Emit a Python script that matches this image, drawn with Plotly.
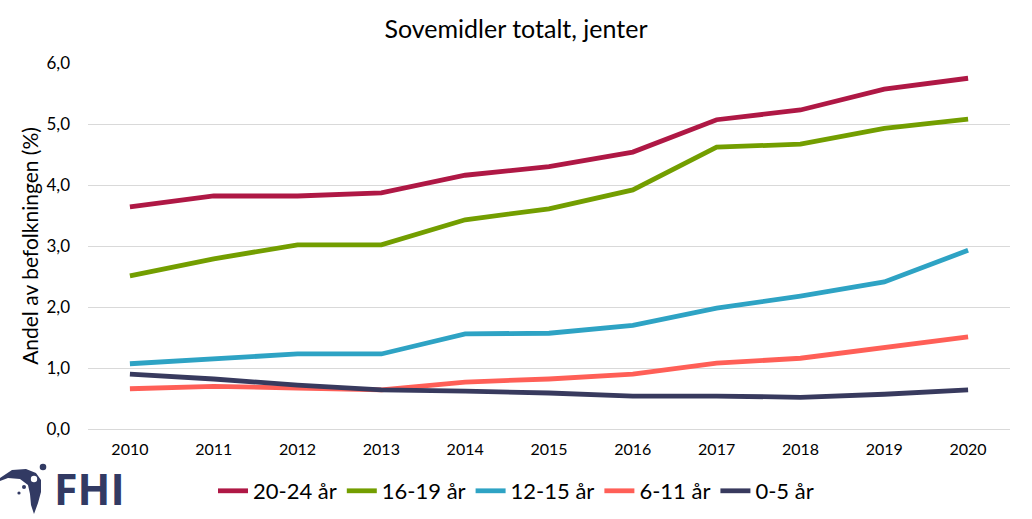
import plotly.graph_objects as go

years = ["2010", "2011", "2012", "2013", "2014", "2015", "2016", "2017", "2018", "2019", "2020"]
series_names = ["20-24 år", "16-19 år", "12-15 år", "6-11 år", "0-5 år"]
v_20_24 = [3.64, 3.82, 3.82, 3.87, 4.16, 4.30, 4.54, 5.07, 5.23, 5.57, 5.75]
v_16_19 = [2.51, 2.79, 3.02, 3.02, 3.43, 3.61, 3.92, 4.62, 4.67, 4.93, 5.08]
v_12_15 = [1.07, 1.15, 1.23, 1.23, 1.56, 1.57, 1.70, 1.98, 2.18, 2.41, 2.93]
v_6_11 = [0.66, 0.70, 0.67, 0.64, 0.77, 0.82, 0.90, 1.08, 1.16, 1.33, 1.51]
v_0_5 = [0.90, 0.82, 0.72, 0.64, 0.62, 0.59, 0.54, 0.54, 0.52, 0.57, 0.64]
colors = ["#AF1845", "#739E00", "#2EA3C4", "#FF5F57", "#383A5E"]
y_ticks = [0, 1, 2, 3, 4, 5, 6]

FONT = "Lato"
W, H = 1032, 519
L, R, T, B = 88, 22, 63, 90

fig = go.Figure()
for name, vals, col in zip(series_names, [v_20_24, v_16_19, v_12_15, v_6_11, v_0_5], colors):
    fig.add_trace(go.Scatter(x=years, y=vals, mode="lines", name=name,
                             line=dict(color=col, width=4.8)))

pw, ph = W - L - R, H - T - B
def px(x): return (x - L) / pw
def py(y): return (H - B - y) / ph

logo_col = "#323A63"
pts = [(0, 478), (12, 470), (26, 469), (36, 473), (41, 480), (41, 492), (38, 503), (34, 514),
       (31, 505), (30, 494), (28, 485), (20, 479), (8, 478), (0, 481)]
path = "M " + " L ".join(f"{px(a):.5f},{py(b):.5f}" for a, b in pts) + " Z"

shapes = [dict(type="path", xref="paper", yref="paper", path=path, fillcolor=logo_col, line=dict(width=0))]
def circ(cx, cy, r, col):
    return dict(type="circle", xref="paper", yref="paper", x0=px(cx - r), x1=px(cx + r),
                y0=py(cy + r), y1=py(cy - r), fillcolor=col, line=dict(width=0))
shapes += [circ(34, 479, 3.2, "white"), circ(43, 467, 3.3, logo_col), circ(24, 487, 2.0, logo_col), circ(19, 493, 1.6, logo_col)]

fig.update_layout(
    width=W, height=H,
    margin=dict(l=L, r=R, t=T, b=B, autoexpand=False),
    paper_bgcolor="white", plot_bgcolor="white",
    separators=", ",
    font=dict(family=FONT, size=15, color="#000000"),
    title=dict(text="Sovemidler totalt, jenter", x=0.5, xanchor="center", y=1 - 29 / H, yanchor="middle",
               font=dict(family=FONT, size=25, color="#000000")),
    xaxis=dict(type="category", range=[-0.5, 10.5], showgrid=False, showline=False, ticks="",
               tickfont=dict(size=16), fixedrange=True, automargin=False, ticklabelstandoff=9),
    yaxis=dict(range=[0, 6], tickvals=y_ticks, tickformat=".1f", showgrid=True, gridcolor="#D9D9D9",
               gridwidth=1, zeroline=True, zerolinecolor="#D9D9D9", zerolinewidth=1, ticks="",
               ticklabelstandoff=17, tickfont=dict(size=17), automargin=False,
               title=dict(text="Andel av befolkningen (%)", font=dict(size=21), standoff=2)),
    legend=dict(orientation="h", xref="container", x=0.5, xanchor="center",
                y=-(491 - (H - B)) / ph, yanchor="middle",
                font=dict(size=22), itemwidth=30, tracegroupgap=0, bgcolor="rgba(0,0,0,0)"),
    shapes=shapes,
    annotations=[dict(text="<b>FHI</b>", xref="paper", yref="paper", x=px(53), y=py(518.5), xanchor="left",
                      yanchor="bottom", showarrow=False, borderpad=0,
                      font=dict(family="Open Sans", size=43, color=logo_col))],
    showlegend=True,
)
fig.write_html("out.html", config={"displayModeBar": False},
               post_script="document.body.style.margin='0';document.body.style.overflow='hidden';")
